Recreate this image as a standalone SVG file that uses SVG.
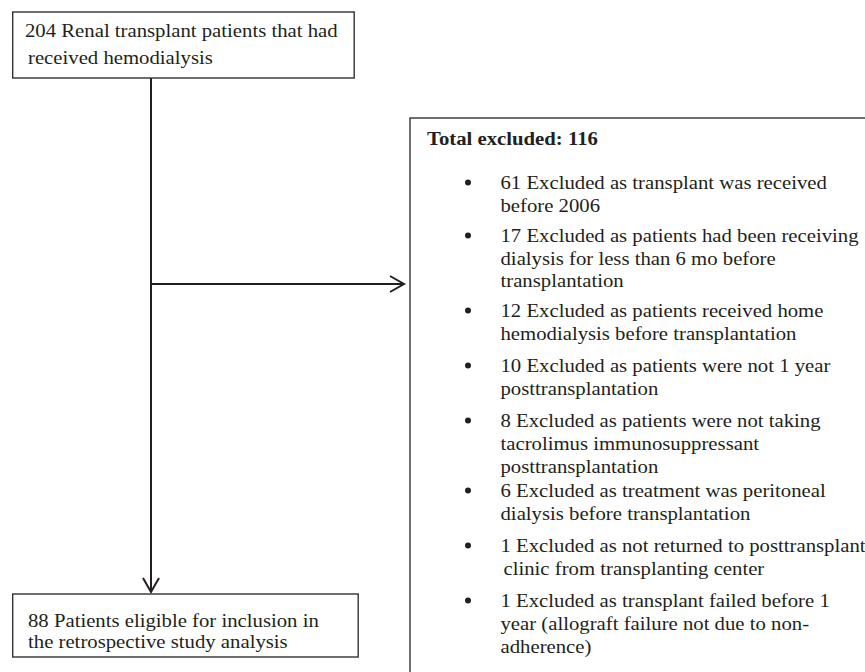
<svg xmlns="http://www.w3.org/2000/svg" width="865" height="672" viewBox="0 0 865 672">
<style>
  .box { fill: #ffffff; stroke: #333333; stroke-width: 1.4; }
  .t { font-family: "Liberation Serif", "Times New Roman", serif; font-size: 18.2px; fill: #231f20; }
  .b { font-weight: bold; }
  .conn { fill: none; stroke: #231f20; stroke-width: 2; }
  .bullet { fill: #231f20; }
</style>
<rect x="0" y="0" width="865" height="672" fill="#ffffff"/>
<g id="connectors">
  <line class="conn" x1="151" y1="78" x2="151" y2="592"/>
  <polyline class="conn" points="143,578 151,592 159,578"/>
  <line class="conn" x1="151" y1="284" x2="403" y2="284"/>
  <polyline class="conn" points="390,276 404,284 390,292"/>
</g>
<g id="node-start">
  <rect class="box" x="12.7" y="12" width="341.5" height="66"/>
  <text class="t" transform="matrix(1.14 0 0 1 25 37)">204 Renal transplant patients that had</text>
  <text class="t" transform="matrix(1.14 0 0 1 28 64)">received hemodialysis</text>
</g>
<g id="node-eligible">
  <rect class="box" x="12.7" y="594" width="345.5" height="63"/>
  <text class="t" transform="matrix(1.14 0 0 1 28 627)">88 Patients eligible for inclusion in</text>
  <text class="t" transform="matrix(1.14 0 0 1 28 648)">the retrospective study analysis</text>
</g>
<g id="node-excluded">
  <rect class="box" x="410" y="118" width="480" height="580"/>
  <text class="t b" transform="matrix(1.14 0 0 1 427 145)">Total excluded: 116</text>
  <circle class="bullet" cx="468" cy="182.5" r="3"/>
  <text class="t" transform="matrix(1.14 0 0 1 500.5 189)">61 Excluded as transplant was received</text>
  <text class="t" transform="matrix(1.14 0 0 1 500.5 212)">before 2006</text>
  <circle class="bullet" cx="468" cy="235.5" r="3"/>
  <text class="t" transform="matrix(1.14 0 0 1 500.5 242)">17 Excluded as patients had been receiving</text>
  <text class="t" transform="matrix(1.14 0 0 1 500.5 264.5)">dialysis for less than 6 mo before</text>
  <text class="t" transform="matrix(1.14 0 0 1 500.5 287)">transplantation</text>
  <circle class="bullet" cx="468" cy="310.5" r="3"/>
  <text class="t" transform="matrix(1.14 0 0 1 500.5 317)">12 Excluded as patients received home</text>
  <text class="t" transform="matrix(1.14 0 0 1 500.5 339.5)">hemodialysis before transplantation</text>
  <circle class="bullet" cx="468" cy="365.5" r="3"/>
  <text class="t" transform="matrix(1.14 0 0 1 500.5 372)">10 Excluded as patients were not 1 year</text>
  <text class="t" transform="matrix(1.14 0 0 1 500.5 394.5)">posttransplantation</text>
  <circle class="bullet" cx="468" cy="420.5" r="3"/>
  <text class="t" transform="matrix(1.14 0 0 1 500.5 427)">8 Excluded as patients were not taking</text>
  <text class="t" transform="matrix(1.14 0 0 1 500.5 449.5)">tacrolimus immunosuppressant</text>
  <text class="t" transform="matrix(1.14 0 0 1 500.5 472.5)">posttransplantation</text>
  <circle class="bullet" cx="468" cy="490.5" r="3"/>
  <text class="t" transform="matrix(1.14 0 0 1 500.5 497)">6 Excluded as treatment was peritoneal</text>
  <text class="t" transform="matrix(1.14 0 0 1 500.5 519.5)">dialysis before transplantation</text>
  <circle class="bullet" cx="468" cy="545.5" r="3"/>
  <text class="t" transform="matrix(1.14 0 0 1 500.5 552)">1 Excluded as not returned to posttransplant</text>
  <text class="t" transform="matrix(1.14 0 0 1 503.5 574.5)">clinic from transplanting center</text>
  <circle class="bullet" cx="468" cy="600.5" r="3"/>
  <text class="t" transform="matrix(1.14 0 0 1 500.5 607)">1 Excluded as transplant failed before 1</text>
  <text class="t" transform="matrix(1.14 0 0 1 500.5 629.5)">year (allograft failure not due to non-</text>
  <text class="t" transform="matrix(1.14 0 0 1 500.5 652.5)">adherence)</text>
</g>
</svg>
